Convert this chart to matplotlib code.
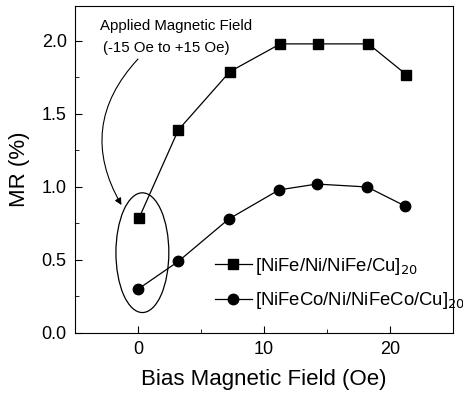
import matplotlib.pyplot as plt
from matplotlib.patches import Ellipse
from matplotlib.ticker import MultipleLocator

bias_nife = [0.1, 3.2, 7.3, 11.3, 14.3, 18.3, 21.3]
mr_nife = [0.79, 1.39, 1.79, 1.98, 1.98, 1.98, 1.77]
bias_nifeco = [0.0, 3.2, 7.2, 11.2, 14.2, 18.2, 21.2]
mr_nifeco = [0.30, 0.49, 0.78, 0.98, 1.02, 1.00, 0.87]

label_nife = r'[NiFe/Ni/NiFe/Cu]$_{20}$'
label_nifeco = r'[NiFeCo/Ni/NiFeCo/Cu]$_{20}$'

plt.rcParams['font.family'] = 'Liberation Sans'

fig = plt.figure(figsize=(4.63, 3.95), dpi=100)
ax = fig.add_axes([0.162, 0.157, 0.816, 0.828])

ax.plot(bias_nife, mr_nife, 'k-', marker='s', markersize=7, lw=0.9, label=label_nife)
ax.plot(bias_nifeco, mr_nifeco, 'k-', marker='o', markersize=7.5, lw=0.9, label=label_nifeco)

ax.add_patch(Ellipse((0.35, 0.55), 4.2, 0.82, fill=False, ec='k', lw=0.9))
ax.text(-3.0, 2.10, 'Applied Magnetic Field', fontsize=10.8, va='center')
ax.text(-2.8, 1.95, '(-15 Oe to +15 Oe)', fontsize=10.8, va='center')
ax.annotate('', xy=(-1.2, 0.86), xytext=(0.15, 1.89),
            arrowprops=dict(arrowstyle='-|>', color='k', lw=0.8,
                            connectionstyle='arc3,rad=0.38'))

ax.set_xlim(-5, 25)
ax.set_ylim(0, 2.24)
ax.xaxis.set_major_locator(MultipleLocator(10))
ax.xaxis.set_minor_locator(MultipleLocator(5))
ax.yaxis.set_major_locator(MultipleLocator(0.5))
ax.yaxis.set_minor_locator(MultipleLocator(0.25))
ax.tick_params(which='both', direction='in', labelsize=13)
ax.tick_params(which='major', length=5, pad=6)
ax.tick_params(which='minor', length=3)
ax.set_xlabel('Bias Magnetic Field (Oe)', fontsize=16, labelpad=8)
ax.set_ylabel('MR (%)', fontsize=16, labelpad=8)

ax.legend(loc='lower right', bbox_to_anchor=(1.075, 0.015), frameon=False,
          fontsize=13.3, handlelength=2.0, handletextpad=0.15, labelspacing=0.75)

fig.savefig('out.png', dpi=100)
